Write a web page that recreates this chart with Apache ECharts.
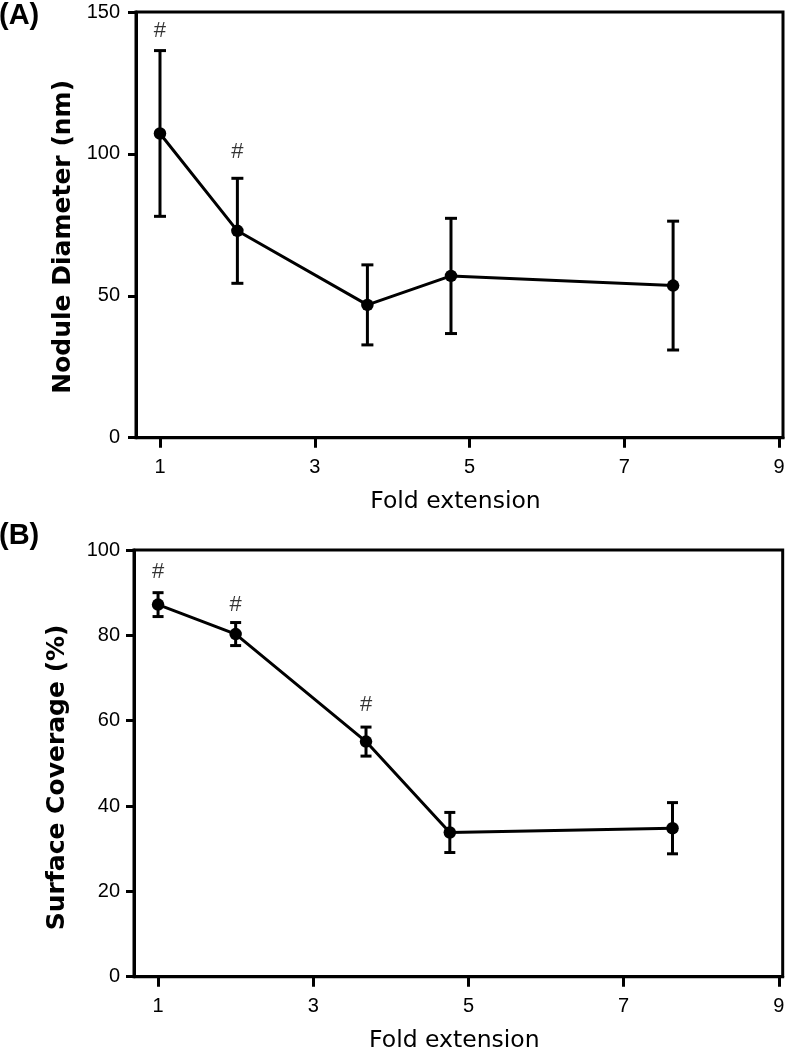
<!DOCTYPE html>
<html>
<head>
<meta charset="utf-8">
<script src="https://cdn.jsdelivr.net/npm/echarts@6/dist/echarts.min.js"></script>
<style>
html,body{margin:0;padding:0;background:#fff;}
#chart{width:786px;height:1050px;}
</style>
</head>
<body>
<div id="chart"></div>
<script>
// ---- data ----
const foldExtension = [1, 2, 3.68, 4.76, 7.63];
const xTicks = [1, 3, 5, 7, 9];

const diameterMean = [107.2, 72.9, 46.8, 57.0, 53.6];
const diameterErr  = [29.2, 18.5, 14.1, 20.3, 22.7];
const diameterTicks = [0, 50, 100, 150];
const diameterSig = [[1, 143.3], [2, 100.7]];

const coverageMean = [87.2, 80.3, 55.1, 33.8, 34.8];
const coverageErr  = [2.8, 2.7, 3.4, 4.7, 6.0];
const coverageTicks = [0, 20, 40, 60, 80, 100];
const coverageSig = [[1, 94.9], [2, 87.1], [3.68, 63.8]];

const panelLabels = ['(A)', '(B)'];
const yNames = ['Nodule Diameter (nm)', 'Surface Coverage (%)'];
const xName = 'Fold extension';

// ---- helpers ----
const black = '#000';
const tickFont = '"Liberation Sans", Arial, sans-serif';
const nameFont = '"DejaVu Sans", sans-serif';

function xAxisCfg(gridIndex) {
  return {
    type: 'value', gridIndex: gridIndex, min: 0.69, max: 9.05,
    name: xName, nameLocation: 'middle', nameGap: 52,
    nameTextStyle: {fontFamily: nameFont, fontSize: 23.5, color: black, padding: [0, 8, 0, 0]},
    axisLine: {show: true, onZero: false, lineStyle: {color: black, width: 3}},
    axisTick: {show: true, length: 10, customValues: xTicks, lineStyle: {color: black, width: 3}},
    axisLabel: {customValues: xTicks, margin: 20, fontFamily: tickFont, fontSize: 20, color: black},
    splitLine: {show: false}
  };
}
function yAxisCfg(gridIndex, max, interval, name, gap, padRight, margin) {
  return {
    type: 'value', gridIndex: gridIndex, min: 0, max: max, interval: interval,
    name: name, nameLocation: 'middle', nameGap: gap,
    nameTextStyle: {fontFamily: nameFont, fontWeight: 'bold', fontSize: 25, color: black, padding: [0, padRight, 0, 0]},
    axisLine: {show: true, lineStyle: {color: black, width: 3}},
    axisTick: {show: true, length: 8, lineStyle: {color: black, width: 3}},
    axisLabel: {margin: margin, fontFamily: tickFont, fontSize: 20, color: black},
    splitLine: {show: false}
  };
}
function errorSeries(idx, means, errs, capHalf) {
  return {
    type: 'custom', xAxisIndex: idx, yAxisIndex: idx, z: 2,
    data: foldExtension.map((x, i) => [x, means[i], errs[i]]),
    renderItem: function (params, api) {
      const x = api.value(0), m = api.value(1), e = api.value(2);
      const top = api.coord([x, m + e]);
      const bot = api.coord([x, m - e]);
      const st = {stroke: black, lineWidth: 3};
      return {
        type: 'group',
        children: [
          {type: 'line', shape: {x1: top[0], y1: top[1], x2: bot[0], y2: bot[1]}, style: st},
          {type: 'line', shape: {x1: top[0] - capHalf, y1: top[1], x2: top[0] + capHalf, y2: top[1]}, style: st},
          {type: 'line', shape: {x1: bot[0] - capHalf, y1: bot[1], x2: bot[0] + capHalf, y2: bot[1]}, style: st}
        ]
      };
    }
  };
}
function lineSeries(idx, means) {
  return {
    type: 'line', xAxisIndex: idx, yAxisIndex: idx, z: 3,
    data: foldExtension.map((x, i) => [x, means[i]]),
    symbol: 'circle', symbolSize: 12.5,
    itemStyle: {color: black},
    lineStyle: {color: black, width: 3},
    animation: false
  };
}
function sigSeries(idx, pts) {
  return {
    type: 'scatter', xAxisIndex: idx, yAxisIndex: idx, z: 4,
    data: pts, symbolSize: 1, itemStyle: {color: 'rgba(0,0,0,0)'},
    label: {show: true, position: 'inside', formatter: '#', fontFamily: tickFont, fontSize: 22, color: black},
    animation: false
  };
}

const chart = echarts.init(document.getElementById('chart'), null, {renderer: 'canvas'});
chart.setOption({
  backgroundColor: '#fff',
  animation: false,
  graphic: [
    {type: 'text', left: -1, top: 1, style: {text: panelLabels[0], font: 'bold 29px "Liberation Sans", Arial, sans-serif', fill: black}},
    {type: 'text', left: -1, top: 521, style: {text: panelLabels[1], font: 'bold 29px "Liberation Sans", Arial, sans-serif', fill: black}}
  ],
  grid: [
    {left: 136, top: 12, right: 3, bottom: 612.3, show: true, borderColor: black, borderWidth: 3, containLabel: false, outerBoundsMode: 'none'},
    {left: 134, top: 550, right: 3.3, bottom: 73.3, show: true, borderColor: black, borderWidth: 3, containLabel: false, outerBoundsMode: 'none'}
  ],
  xAxis: [xAxisCfg(0), xAxisCfg(1)],
  yAxis: [
    yAxisCfg(0, 150, 50, yNames[0], 53, 24, 16),
    yAxisCfg(1, 100, 20, yNames[1], 64, 28, 14)
  ],
  series: [
    errorSeries(0, diameterMean, diameterErr, 6),
    lineSeries(0, diameterMean),
    sigSeries(0, diameterSig),
    errorSeries(1, coverageMean, coverageErr, 5.5),
    lineSeries(1, coverageMean),
    sigSeries(1, coverageSig)
  ]
});
</script>
</body>
</html>
